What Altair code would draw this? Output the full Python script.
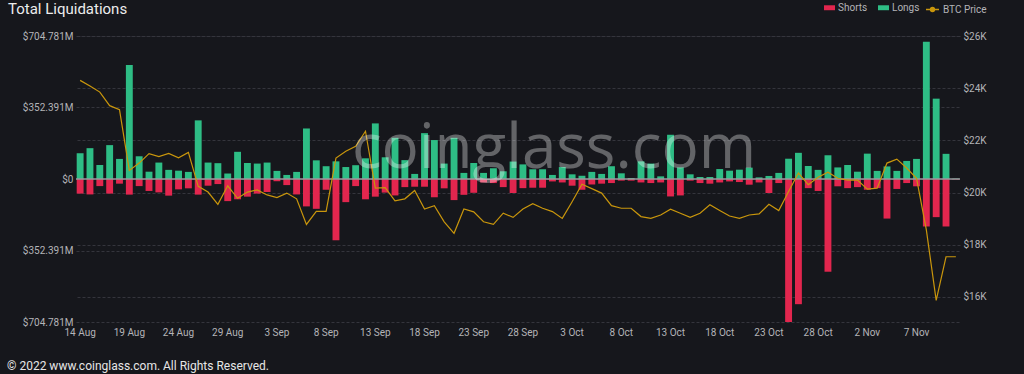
import altair as alt
import pandas as pd

# ---------------- data ----------------
dates = pd.date_range("2022-08-14", "2022-11-11", freq="D")
day_labels = [f"{d.day} {d.strftime('%b')}" for d in dates]
tick_labels = day_labels[::5]

# long liquidations (USD millions)
longs = [127, 152, 69, 167, 99, 562, 112, 36, 81, 45,
         41, 35, 289, 81, 78, 27, 134, 79, 76, 81,
         40, 20, 35, 249, 92, 63, 87, 59, 68, 102,
         274, 107, 203, 93, 25, 226, 192, 76, 203, 30,
         79, 30, 53, 38, 86, 72, 48, 48, 20, 59,
         23, 16, 35, 25, 63, 28, 5, 87, 76, 13,
         218, 57, 23, 10, 10, 49, 41, 46, 56, 8,
         15, 30, 100, 129, 64, 45, 117, 57, 69, 36,
         125, 40, 62, 40, 89, 99, 676, 396, 124, 2]

# short liquidations (USD millions)
shorts = [72, 76, 35, 72, 23, 77, 35, 59, 66, 82,
          51, 46, 77, 33, 25, 109, 100, 87, 72, 64,
          11, 30, 76, 135, 147, 53, 302, 114, 35, 100,
          87, 67, 81, 40, 38, 38, 90, 46, 104, 78,
          68, 17, 20, 40, 69, 45, 43, 43, 12, 17,
          33, 53, 27, 23, 20, 8, 8, 17, 20, 17,
          86, 81, 8, 20, 23, 17, 12, 15, 28, 17,
          69, 20, 704.781, 617, 45, 59, 457, 36, 45, 40,
          53, 45, 195, 49, 20, 36, 234, 188, 234, 2]

# BTC price (USD)
price = [24300, 24080, 23850, 23330, 23180, 20850, 21130, 21490, 21380, 21500,
         21330, 21540, 20240, 20020, 19550, 20260, 19780, 20020, 20100, 19910,
         19810, 19980, 19760, 18780, 19280, 19280, 21320, 21580, 21770, 22350,
         20170, 20190, 19680, 19760, 20080, 19370, 19500, 18880, 18440, 19370,
         19260, 18880, 18780, 19210, 19050, 19370, 19570, 19400, 19270, 19010,
         19650, 20320, 20150, 19980, 19500, 19400, 19400, 19080, 19010, 19140,
         19360, 19210, 19050, 19210, 19530, 19310, 19100, 19010, 19140, 19180,
         19550, 19310, 20040, 20750, 20300, 20590, 20780, 20550, 20480, 20480,
         20130, 20170, 21130, 21280, 20940, 20550, 18570, 15870, 17540, 17540]

left_ticks = [-704.781, -352.391, 0, 352.391, 704.781]
right_ticks = [16000, 18000, 20000, 22000, 24000, 26000]

TITLE = "Total Liquidations"
FOOTER = "© 2022 www.coinglass.com. All Rights Reserved."
WATERMARK = "coinglass.com"

GREEN = "#2ebd85"
RED = "#e2264e"
GOLD = "#c9960c"
BG = "#16171c"
GRID = "#34353c"
LABEL = "#b4b4b8"
FONT = "Roboto"

bars_df = pd.DataFrame({
    "day": day_labels * 2,
    "type": ["Longs"] * len(longs) + ["Shorts"] * len(shorts),
    "value": longs + [-v for v in shorts],
})
price_df = pd.DataFrame({"day": day_labels, "price": price, "series": "BTC Price"})

x_enc = alt.X(
    "day:O", sort=day_labels,
    scale=alt.Scale(paddingInner=0.3, paddingOuter=0.07),
    axis=alt.Axis(values=tick_labels, labelAngle=0, ticks=False, domain=False,
                  grid=False, labelColor=LABEL, labelFontSize=10, labelFont=FONT,
                  labelPadding=5, title=None),
)

bars = alt.Chart(bars_df).mark_bar().encode(
    x=x_enc,
    y=alt.Y("value:Q",
            scale=alt.Scale(domain=[-704.781, 704.781], nice=False),
            axis=alt.Axis(values=left_ticks,
                          labelExpr="datum.value == 0 ? '$0' : '$' + format(abs(datum.value), '.3f') + 'M'",
                          grid=True, gridDash=[3, 2], gridColor=GRID, domain=False, ticks=False,
                          labelPadding=3, labelColor=LABEL, labelFontSize=10, labelFont=FONT,
                          title=None)),
    color=alt.Color("type:N",
                    scale=alt.Scale(domain=["Shorts", "Longs"], range=[RED, GREEN]),
                    legend=alt.Legend(orient="none", legendX=748, legendY=-34,
                                      direction="horizontal", title=None,
                                      symbolType="M-1,-0.45L1,-0.45L1,0.45L-1,0.45Z",
                                      symbolSize=121, symbolStrokeWidth=0,
                                      labelColor=LABEL, labelFontSize=10, labelFont=FONT,
                                      labelOffset=3, columnPadding=10, padding=0)),
)

zero = alt.Chart(pd.DataFrame({"value": [0]})).mark_rule(
    color="#9a9a9e", strokeWidth=1.5).encode(y="value:Q")

left_layer = alt.layer(bars, zero)

line = alt.Chart(price_df).mark_line(strokeWidth=1.2).encode(
    x=x_enc,
    y=alt.Y("price:Q",
            scale=alt.Scale(domain=[15040, 26000], nice=False, zero=False),
            axis=alt.Axis(orient="right", values=right_ticks,
                          labelExpr="'$' + datum.value / 1000 + 'K'",
                          grid=True, gridDash=[3, 2], gridColor=GRID, domain=False, ticks=False,
                          labelPadding=3, labelColor=LABEL, labelFontSize=10, labelFont=FONT,
                          title=None)),
    stroke=alt.Stroke("series:N",
                      scale=alt.Scale(domain=["BTC Price"], range=[GOLD]),
                      legend=alt.Legend(orient="none", legendX=849, legendY=-34,
                                        direction="horizontal", title=None,
                                        symbolType="M-1,0L1,0M0.3,0A0.3,0.3,0,1,1,-0.3,0A0.3,0.3,0,1,1,0.3,0",
                                        symbolSize=169, symbolStrokeWidth=1.5,
                                        symbolFillColor=GOLD,
                                        labelColor=LABEL, labelFontSize=10, labelFont=FONT,
                                        labelOffset=3, padding=0)),
)

watermark = alt.Chart(pd.DataFrame({"t": [WATERMARK]})).mark_text(
    font="Open Sans", fontSize=62, color="#ffffff", opacity=0.33,
    align="center", baseline="alphabetic",
).encode(text="t:N", x=alt.value(478), y=alt.value(132))

title = alt.Chart(pd.DataFrame({"t": [TITLE]})).mark_text(
    font=FONT, fontSize=15, color="#ececec", align="left", baseline="alphabetic",
).encode(text="t:N", x=alt.value(-68), y=alt.value(-22))

footer = alt.Chart(pd.DataFrame({"t": [FOOTER]})).mark_text(
    font=FONT, fontSize=12, color="#e6e6e6", align="left", baseline="middle",
).encode(text="t:N", x=alt.value(-69), y=alt.value(330))

chart = alt.layer(left_layer, line, watermark, title, footer).resolve_scale(
    y="independent"
).properties(
    width=884, height=286,
    padding={"left": 76, "top": 36, "right": 64, "bottom": 52},
    autosize=alt.AutoSizeParams(type="none"),
).configure(
    background=BG,
).configure_view(stroke=None)

chart.save("out.html", embed_options={"renderer": "svg", "actions": False})
